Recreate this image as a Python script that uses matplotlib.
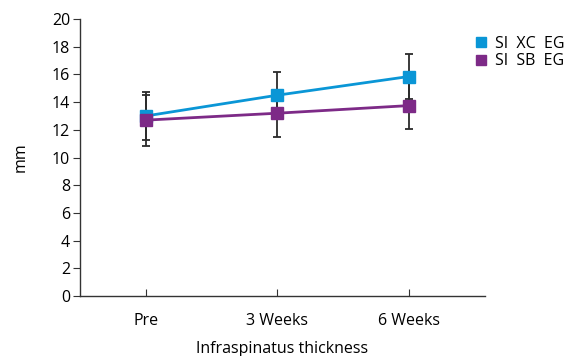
import matplotlib

matplotlib.use("Agg")
import matplotlib.pyplot as plt

plt.rcParams["font.family"] = ["Open Sans", "DejaVu Sans"]

categories = ["Pre", "3 Weeks", "6 Weeks"]
series_names = ["SI  XC  EG", "SI  SB  EG"]
xc_values = [13.0, 14.5, 15.85]
xc_errors = [1.75, 1.7, 1.65]
sb_values = [12.7, 13.2, 13.75]
sb_errors = [1.85, 1.7, 1.7]
colors = ["#0a96d6", "#7d2a87"]

fig = plt.figure(figsize=(5.77, 3.56), dpi=100)
ax = fig.add_axes([0.1386, 0.1685, 0.702, 0.778])

x = list(range(len(categories)))
for vals, errs, col, name in zip([xc_values, sb_values], [xc_errors, sb_errors],
                                 colors, series_names):
    ax.errorbar(x, vals, yerr=errs, fmt="none", ecolor="#2b2b2b",
                elinewidth=1.3, capsize=3, capthick=1.3, zorder=2)
    ax.plot(x, vals, color=col, lw=2, marker="s", markersize=9,
            label=name, zorder=3)

ax.set_xlim(-0.5, 2.58)
ax.set_ylim(0, 20)
ax.set_yticks(range(0, 21, 2))
ax.set_xticks(x)
ax.set_xticklabels(categories)
ax.spines[["top", "right"]].set_visible(False)
for s in ["left", "bottom"]:
    ax.spines[s].set_color("#333333")
    ax.spines[s].set_linewidth(1.0)
ax.tick_params(axis="y", direction="out", length=5, labelsize=11.5,
               color="#333333", pad=2)
ax.tick_params(axis="x", direction="in", length=5, labelsize=11.5,
               color="#333333", pad=12)
ax.set_ylabel("mm", fontsize=11.5, labelpad=17)
ax.set_xlabel("Infraspinatus thickness", fontsize=11.5, labelpad=9)

handles = [plt.Line2D([], [], ls="none", marker="s", markersize=7, color=c)
           for c in colors]
fig.legend(handles, series_names, loc="upper left",
           bbox_to_anchor=(0.795, 0.94), frameon=False, fontsize=11.5,
           handletextpad=0.4, labelspacing=0.1, handlelength=1.0)

fig.savefig("out.png", dpi=100)
